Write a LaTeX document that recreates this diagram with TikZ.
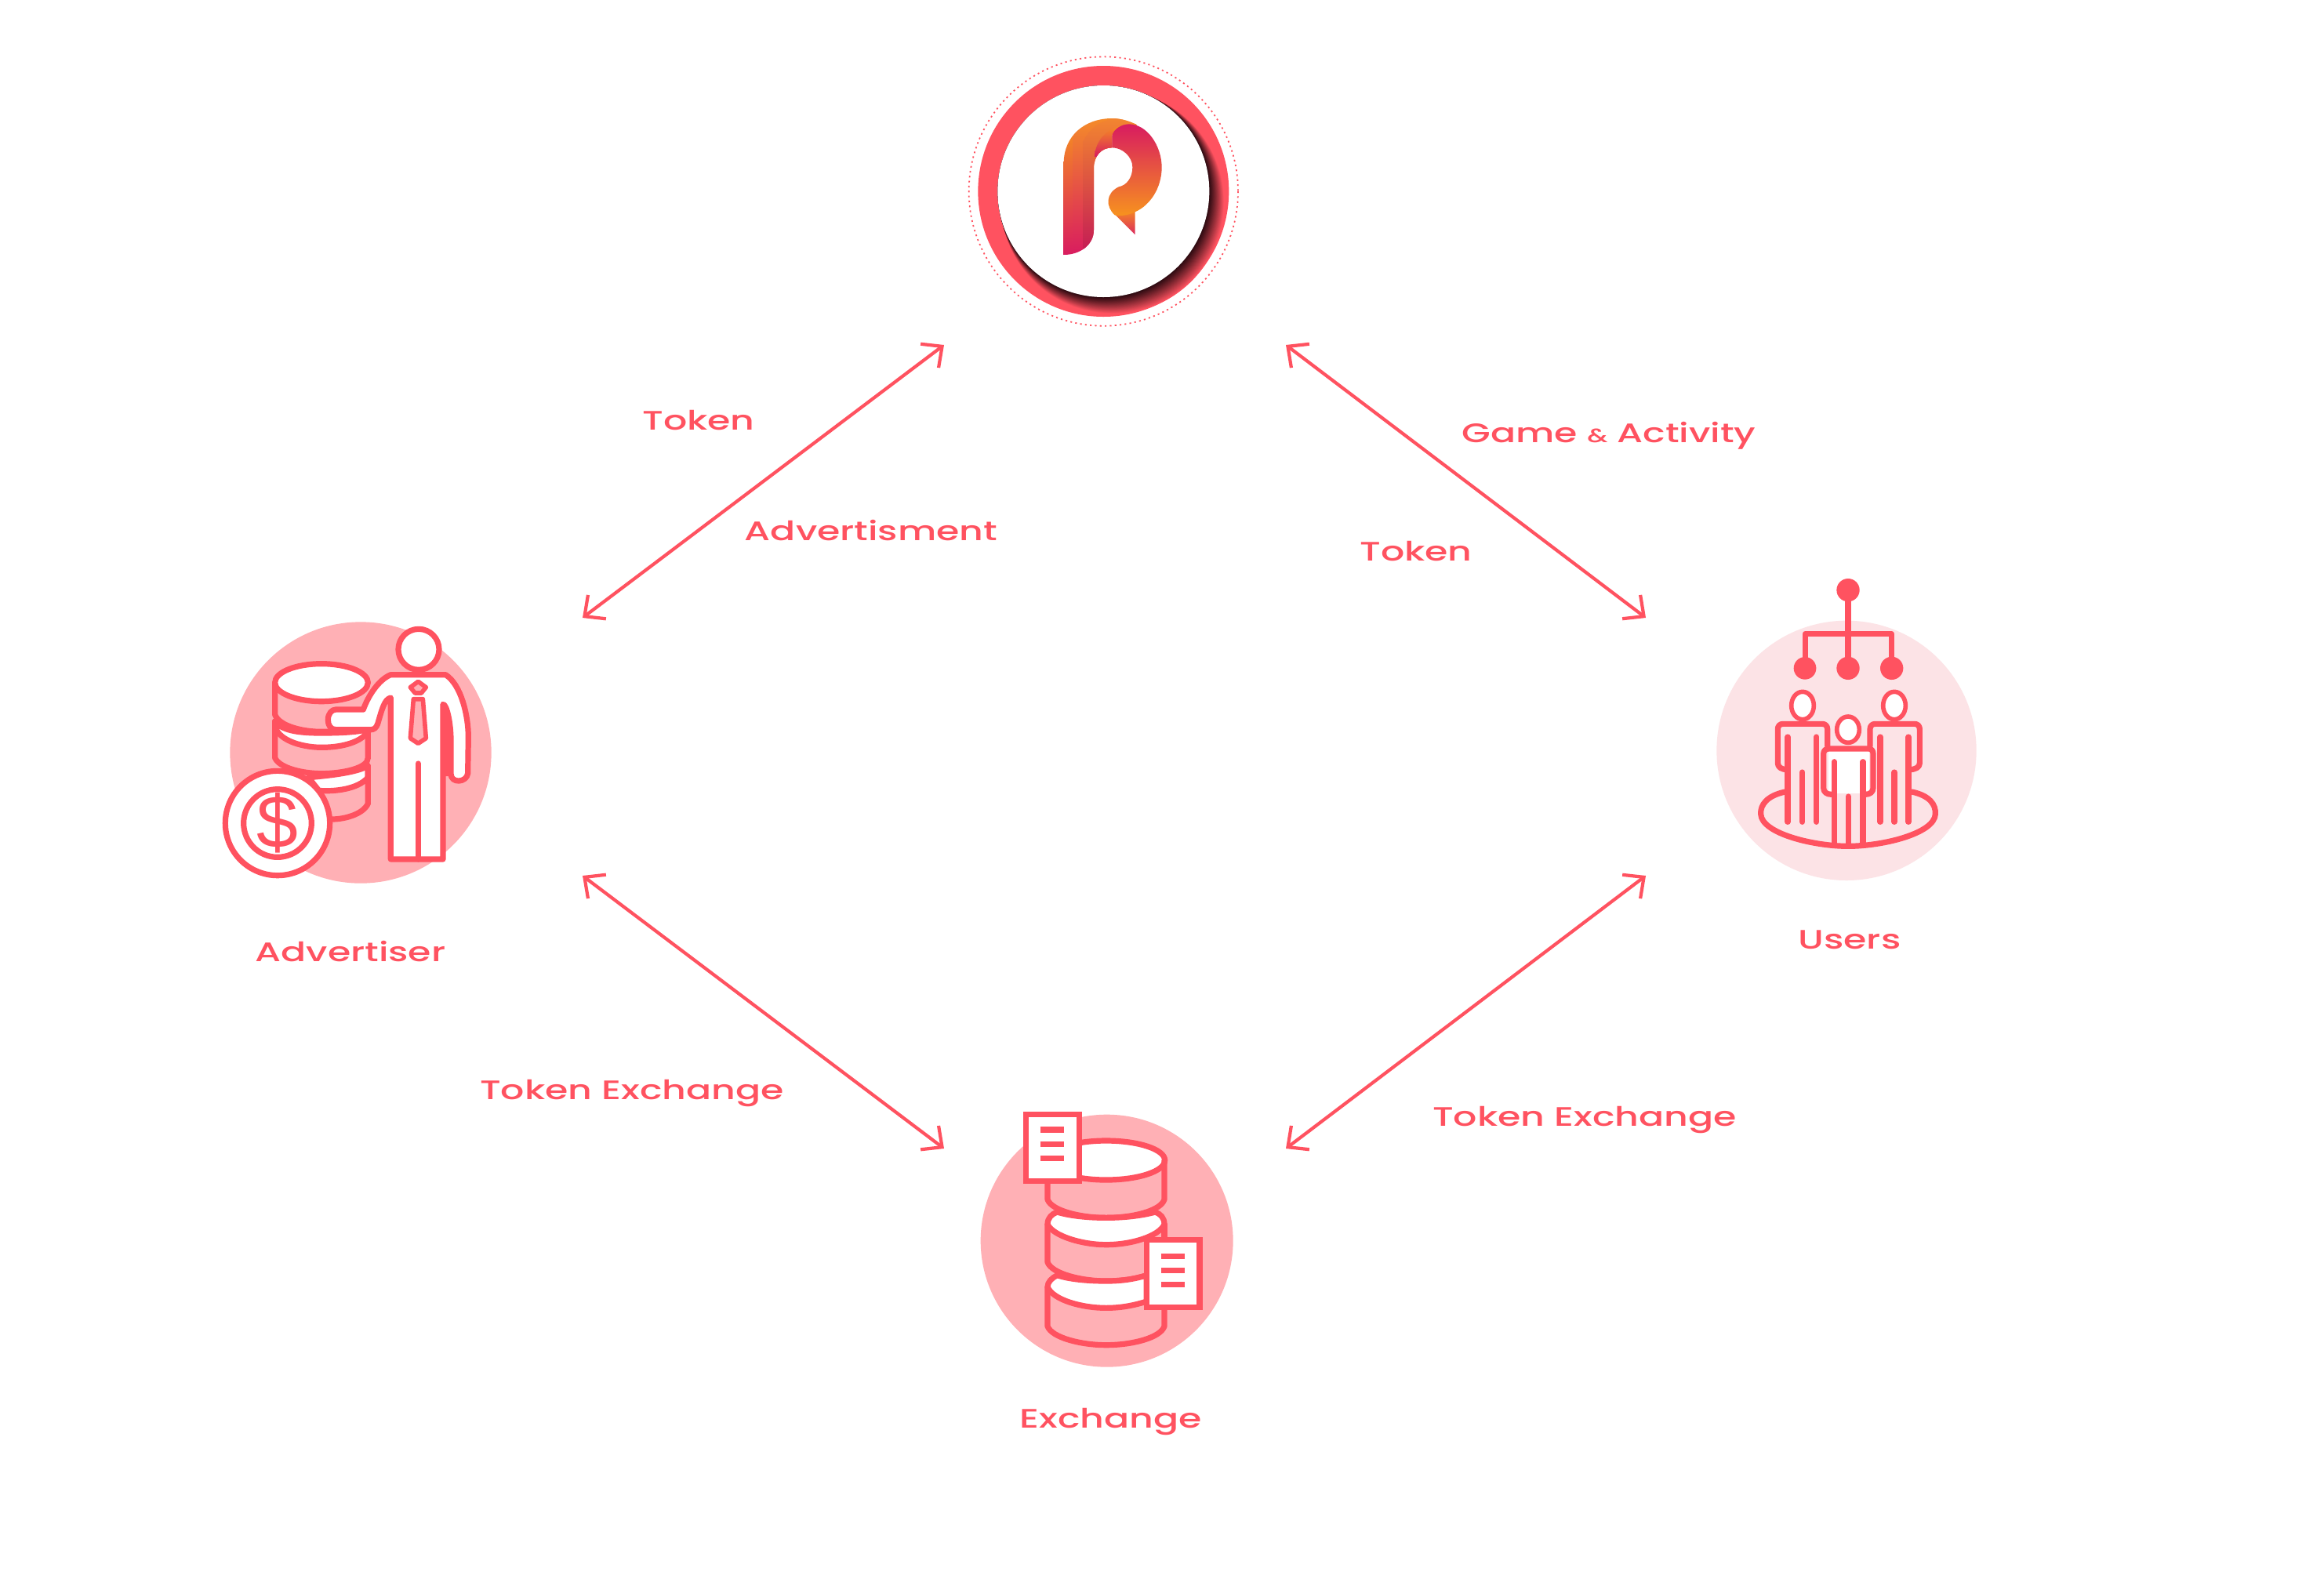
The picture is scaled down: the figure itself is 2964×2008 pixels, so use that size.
\documentclass[tikz,border=0pt]{standalone}
\usepackage{fontspec}
\usetikzlibrary{arrows.meta}
\setmainfont[FakeStretch=1.39]{Poppins Medium}
\newfontfamily\dollarfont{Liberation Sans}
\definecolor{brand}{HTML}{FF5260}
\definecolor{pale}{HTML}{FFB0B5}
\definecolor{paler}{HTML}{FCE3E6}
\definecolor{shadowcol}{HTML}{2A0A10}
\definecolor{logoorange}{HTML}{F7931E}
\definecolor{logomid}{HTML}{E8665A}
\definecolor{logopink}{HTML}{D81B60}
\tikzset{
  ln/.style={draw=brand,line width=2.05pt,line join=round,line cap=round},
  thinln/.style={draw=brand,line width=1.6pt,line join=round,line cap=round},
  lbl/.style={text=brand,font=\fontsize{9.7}{11}\selectfont,inner sep=0pt},
  biarrow/.style={draw=brand,line width=1.2pt,{Straight Barb[length=2mm,width=3.8mm]}-{Straight Barb[length=2mm,width=3.8mm]}},
}
\begin{document}
\begin{tikzpicture}[x=0.01cm,y=-0.01cm]
\useasboundingbox[fill=white] (0,0) rectangle (2964,2008);

% ---------- logo ----------
\begin{scope}[shift={(1200,40)},scale=0.33333]
  \draw[brand,line width=0.5pt,dash pattern=on 0.6pt off 1.2pt] (622,612) circle (515);
  \fill[brand] (622,612) circle (480);
  \foreach \i in {0,...,32}{
    \pgfmathsetmacro{\t}{1-\i/32}
    \pgfmathsetmacro{\p}{100*\t^1.1}
    \fill[brand!\p!shadowcol] ({622+35*\t},{612+42*\t}) circle ({405+22*\t});
  }
  \fill[white] (622,612) circle (405);
  % R mark
  \begin{scope}
    \clip (470,855) -- (470,505) .. controls (470,400) and (550,333) .. (655,333) .. controls (690,333) and (725,345) .. (750,358) -- (655,395) -- (655,445) .. controls (615,445) and (585,475) .. (585,525) -- (585,760) .. controls (585,815) and (535,855) .. (470,855) -- cycle;
    \shade[top color=logoorange,middle color=logomid,bottom color=logopink] (470,333) rectangle (505,860);
    \shade[top color=logoorange!80!logomid,middle color=logopink,bottom color=logopink] (505,333) rectangle (770,860);
    \shade[top color=logoorange!70!logomid,middle color=logopink!85!logomid,bottom color=logopink!90!black] (545,860) -- (545,420) .. controls (570,370) and (610,340) .. (680,330) -- (770,330) -- (760,400) -- (600,860) -- cycle;
    \shade[top color=logoorange,bottom color=logopink] (588,480) -- (588,470) .. controls (600,400) and (650,355) .. (750,355) -- (655,395) -- (655,480) -- cycle;
  \end{scope}
  \shade[top color=logoorange!90!logopink,bottom color=logopink!80!logomid] (660,695) -- (743,778) -- (743,685) -- cycle;
  \shade[top color=logopink,middle color=logomid,bottom color=logoorange] (655,445) -- (655,400) .. controls (660,375) and (690,355) .. (720,355) .. controls (790,355) and (845,440) .. (845,520) .. controls (845,600) and (800,665) .. (745,690) .. controls (720,703) and (690,708) .. (665,703) .. controls (630,670) and (630,620) .. (680,595) .. controls (710,590) and (733,560) .. (733,520) .. controls (733,480) and (695,445) .. (655,445) -- cycle;
\end{scope}

% ---------- advertiser ----------
\begin{scope}[shift={(260,770)},scale=0.33333]
  \fill[pale] (600,570) circle (500);
  % cylinder
  \path[ln] (272,302) -- (272,425) .. controls (290,470) and (380,490) .. (450,490) .. controls (520,490) and (600,480) .. (628,440);
  \path[ln,fill=white] (272,450) .. controls (300,490) and (380,495) .. (450,495) .. controls (540,495) and (600,490) .. (628,480) -- (628,490) .. controls (600,530) and (530,550) .. (450,550) .. controls (390,550) and (290,530) .. (272,470) -- cycle;
  \path[ln] (272,450) -- (272,590) .. controls (290,630) and (380,650) .. (450,650) .. controls (530,650) and (628,630) .. (628,590) -- (628,490);
  \path[ln,fill=white] (400,665) .. controls (520,655) and (600,640) .. (628,620) -- (628,665) .. controls (590,710) and (500,720) .. (440,715) -- cycle;
  \path[ln] (628,620) -- (628,765) .. controls (610,805) and (540,825) .. (490,825);
  \path[ln,fill=white] (450,302) ellipse (178 and 72);
  % person
  \path[ln,fill=white] (822,175) circle (78);
  \path[ln,fill=white] (715,978) -- (715,360) .. controls (690,365) and (680,410) .. (665,460) .. controls (660,475) and (650,482) .. (640,482) -- (505,482) .. controls (485,482) and (475,465) .. (475,445) .. controls (475,420) and (490,405) .. (505,405) -- (610,405) .. controls (630,350) and (670,290) .. (715,272) -- (925,272) .. controls (985,310) and (1012,430) .. (1012,510) -- (1010,650) .. controls (1005,685) and (945,690) .. (945,650) -- (945,520) .. controls (945,460) and (930,385) .. (915,385) -- (915,978) -- cycle;
  \fill[brand] (912,388) .. controls (930,395) and (945,460) .. (945,520) -- (945,660) -- (912,660) -- cycle;
  \path[ln] (820,612) -- (820,978);
  \path[thinln,fill=pale] (790,320) -- (820,298) -- (850,320) -- (832,342) -- (808,342) -- cycle;
  \path[thinln,fill=pale] (802,365) -- (838,365) -- (850,515) -- (820,535) -- (790,515) -- cycle;
  % coin
  \path[ln,fill=white] (282,840) circle (200);
  \path[ln,fill=white] (282,840) circle (130);
  \node[text=brand,inner sep=0pt,font=\dollarfont\fontsize{27}{27}\selectfont] (dollar) at (282,838) {\$};
\end{scope}

% ---------- users ----------
\begin{scope}[shift={(2180,720)},scale=0.33333]
  \fill[paler] (525,712) circle (497);
  \path[ln] (531,98) -- (531,397);
  \path[ln] (367,397) -- (367,265) -- (697,265) -- (697,397);
  \fill[brand] (531,98) circle (44) (366,397) circle (43) (531,397) circle (44) (698,397) circle (44);
  \path[ln] (290,870) .. controls (220,885) and (195,920) .. (197,955) .. controls (200,1030) and (400,1078) .. (531,1078) .. controls (662,1078) and (862,1030) .. (865,955) .. controls (867,920) and (845,885) .. (775,870);
  % side people
  \path[thinln,fill=white] (357,540) ellipse (43 and 53);
  \path[thinln,fill=white] (708,540) ellipse (43 and 53);
  \path[ln] (300,785) .. controls (275,785) and (262,775) .. (262,760) -- (262,630) .. controls (262,618) and (270,610) .. (282,610) -- (432,610) .. controls (444,610) and (452,618) .. (452,630) -- (452,695);
  \path[ln] (765,785) .. controls (790,785) and (805,775) .. (805,760) -- (805,630) .. controls (805,618) and (797,610) .. (785,610) -- (635,610) .. controls (623,610) and (615,618) .. (615,630) -- (615,695);
  \foreach \cx/\cy in {300/660,356/795,410/660,654/660,708/795,762/660}{
    \path[ln] (\cx,\cy) -- (\cx,985);
  }
  % centre person
  \path[thinln,fill=white] (531,632) ellipse (43 and 50);
  \fill[white] (455,712) rectangle (612,875);
  \path[ln] (468,880) .. controls (448,880) and (437,870) .. (437,855) -- (437,725) .. controls (437,712) and (445,705) .. (458,705) -- (610,705) .. controls (620,705) and (627,712) .. (627,725) -- (627,855) .. controls (627,870) and (615,880) .. (597,880);
  \foreach \cx/\cy in {478/755,532/888,588/755}{
    \path[ln] (\cx,\cy) -- (\cx,1075);
  }
\end{scope}

% ---------- exchange ----------
\begin{scope}[shift={(1230,1400)},scale=0.33333]
  \fill[pale] (545,548) circle (483);
  % layer 1
  \path[ln,fill=white] (542,240) ellipse (225 and 75);
  \path[ln] (318,240) -- (318,390) .. controls (335,435) and (450,460) .. (542,460) .. controls (640,460) and (750,435) .. (765,390) -- (765,240);
  % layer 2
  \path[ln,fill=white] (355,438) .. controls (335,445) and (318,460) .. (318,485) .. controls (340,530) and (450,563) .. (542,563) .. controls (640,563) and (745,530) .. (765,485) .. controls (765,460) and (750,445) .. (730,438) .. controls (680,452) and (610,460) .. (542,460) .. controls (470,460) and (400,452) .. (355,438) -- cycle;
  \path[ln] (318,485) -- (318,630) .. controls (335,675) and (450,702) .. (542,702) .. controls (600,702) and (650,695) .. (697,680);
  \path[ln] (765,485) -- (765,545);
  % layer 3
  \path[ln,fill=white] (355,680) .. controls (335,690) and (318,705) .. (318,725) .. controls (340,775) and (450,805) .. (542,805) .. controls (600,805) and (650,795) .. (697,780) -- (697,680) .. controls (650,695) and (600,702) .. (542,702) .. controls (470,702) and (400,695) .. (355,680) -- cycle;
  \path[ln] (318,725) -- (318,875) .. controls (335,920) and (450,947) .. (542,947) .. controls (640,947) and (750,920) .. (765,875) -- (765,803);
  % documents
  \path[ln,fill=white,line cap=butt,line join=miter] (235,65) rectangle (440,320);
  \path[ln,fill=white,line cap=butt,line join=miter] (697,545) rectangle (900,803);
  \foreach \ly in {123,178,233}{\path[ln,line cap=butt] (290,\ly) -- (380,\ly);}
  \foreach \ly in {607,662,716}{\path[ln,line cap=butt] (752,\ly) -- (842,\ly);}
\end{scope}

% ---------- connector ends ----------
\coordinate (a1) at (743,788);  \coordinate (a2) at (1204,440);
\coordinate (b1) at (1640,440); \coordinate (b2) at (2099,788);
\coordinate (c1) at (743,1117); \coordinate (c2) at (1204,1465);
\coordinate (d1) at (1640,1465);\coordinate (d2) at (2099,1117);
\draw[biarrow] (a1) -- (a2);
\draw[biarrow] (b1) -- (b2);
\draw[biarrow] (c1) -- (c2);
\draw[biarrow] (d1) -- (d2);

% ---------- labels ----------
\node[lbl] (t1) at (891,536) {Token};
\node[lbl] (t2) at (1111,676) {Advertisment};
\node[lbl] (t3) at (2052,556) {Game {\fontsize{7}{8}\selectfont\&} Activity};
\node[lbl] (t4) at (1806,703) {Token};
\node[lbl] (t5) at (447,1213) {Advertiser};
\node[lbl] (t6) at (2359,1199) {Users};
\node[lbl] (t7) at (1417,1813) {Exchange};
\node[lbl] (t8) at (806,1394) {Token Exchange};
\node[lbl] (t9) at (2021,1428) {Token Exchange};
\end{tikzpicture}
\end{document}
